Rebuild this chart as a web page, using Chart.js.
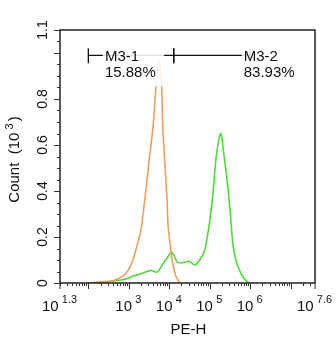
<!DOCTYPE html>
<html>
<head>
<meta charset="utf-8">
<script src="https://cdn.jsdelivr.net/npm/chart.js@4"></script>
<style>
  html, body { margin: 0; padding: 0; background: #fff; }
  canvas { display: block; }
</style>
</head>
<body>
<canvas id="histChart" width="336" height="350"></canvas>
<script>
// PE-H axis in log10 units, counts in 10^3
const orangeLog = [2.0, 2.3, 2.6, 2.85, 3.0, 3.1, 3.2, 3.3, 3.4, 3.5, 3.6, 3.65, 3.7, 3.76, 3.81, 3.84, 3.89, 3.94, 3.97, 4.02, 4.07, 4.16, 4.26];
const orangeCount = [0, 0.005, 0.01, 0.03, 0.06, 0.10, 0.16, 0.23, 0.37, 0.53, 0.68, 0.80, 0.91, 0.97, 0.86, 0.68, 0.52, 0.38, 0.25, 0.17, 0.10, 0.03, 0];

const greenLog = [2.0, 2.3, 2.6, 2.8, 3.0, 3.1, 3.3, 3.45, 3.55, 3.7, 3.85, 3.95, 4.05, 4.1, 4.2, 4.3, 4.4, 4.5, 4.6, 4.65, 4.75, 4.85, 4.92, 5.0, 5.08, 5.15, 5.22, 5.27, 5.3, 5.32, 5.42, 5.5, 5.57, 5.63, 5.7, 5.82, 5.94, 6.0];
const greenCount = [0, 0.003, 0.008, 0.013, 0.022, 0.03, 0.04, 0.05, 0.055, 0.047, 0.085, 0.11, 0.135, 0.125, 0.09, 0.088, 0.092, 0.094, 0.08, 0.078, 0.10, 0.13, 0.18, 0.27, 0.39, 0.535, 0.62, 0.65, 0.63, 0.60, 0.46, 0.32, 0.17, 0.11, 0.07, 0.026, 0.004, 0];

const xTickExps = [1.3, 3, 4, 5, 6, 7.6];
const yTickLabels = [0, 0.2, 0.4, 0.6, 0.8, 1.1];

const gates = [
    { name: 'M3-1', pct: '15.88%', from: 2.0, to: 4.11 },
    { name: 'M3-2', pct: '83.93%', from: 4.11, to: 6.0 }
];
const gateLevel = 0.99;

const FONT = '"Liberation Sans", Arial, sans-serif';

function toPoints(xs, ys) {
    return xs.map((x, i) => ({ x: x, y: ys[i] }));
}

const axesPlugin = {
    id: 'flowAxes',
    afterDatasetsDraw(chart) {
        const { ctx, chartArea: a, scales: { x, y } } = chart;
        ctx.save();

        // gate labels with light backing, drawn over the curves
        ctx.font = '15px ' + FONT;
        ctx.textBaseline = 'middle';
        const gy = y.getPixelForValue(gateLevel);
        gates.forEach((g, i) => {
            const x0 = x.getPixelForValue(g.from);
            const x1 = x.getPixelForValue(g.to);
            ctx.strokeStyle = '#111';
            ctx.lineWidth = 1.3;
            ctx.beginPath();
            ctx.moveTo(x0, gy); ctx.lineTo(x1, gy);
            ctx.moveTo(x0, gy - 7); ctx.lineTo(x0, gy + 8);
            if (i === gates.length - 1 || true) { ctx.moveTo(x1, gy - 7); ctx.lineTo(x1, gy + 8); }
            ctx.stroke();
        });
        const boxes = [
            { x: x.getPixelForValue(2.36), w: 61 },
            { x: x.getPixelForValue(5.79), w: 50 }
        ];
        gates.forEach((g, i) => {
            const bx = boxes[i].x;
            ctx.fillStyle = 'rgba(255,255,255,0.88)';
            ctx.fillRect(bx, gy - 9, boxes[i].w, 40);
            ctx.fillStyle = '#111';
            ctx.textAlign = 'left';
            ctx.fillText(g.name, bx + 2, gy + 2);
            ctx.fillText(g.pct, bx + 2, gy + 18);
        });

        // frame
        ctx.strokeStyle = '#000';
        ctx.lineWidth = 1.3;
        ctx.strokeRect(a.left, a.top, a.right - a.left, a.bottom - a.top);

        // y ticks
        ctx.lineWidth = 1;
        ctx.strokeStyle = '#333';
        for (let v = 0; v <= 1.1001; v += 0.05) {
            const py = Math.round(y.getPixelForValue(v)) + 0.5;
            const r = Math.round(v * 100);
            const major = r % 10 === 0 ? (r % 20 === 0 || r === 100 || r === 110) : false;
            ctx.beginPath();
            ctx.moveTo(a.left, py);
            ctx.lineTo(a.left - (major ? 6 : 3), py);
            ctx.stroke();
        }
        ctx.fillStyle = '#111';
        ctx.font = '14px ' + FONT;
        ctx.textAlign = 'center';
        ctx.textBaseline = 'middle';
        yTickLabels.forEach(v => {
            const py = y.getPixelForValue(v);
            ctx.save();
            ctx.translate(a.left - 17, py);
            ctx.rotate(-Math.PI / 2);
            ctx.fillText(String(v), 0, 0);
            ctx.restore();
        });

        // x ticks (log minor ticks)
        const minX = x.min, maxX = x.max;
        for (let d = 1; d <= 7; d++) {
            for (let m = 1; m <= 9; m++) {
                const lv = d + Math.log10(m);
                if (lv < minX - 1e-6 || lv > maxX + 1e-6) continue;
                const px = Math.round(x.getPixelForValue(lv)) + 0.5;
                ctx.beginPath();
                ctx.moveTo(px, a.bottom);
                ctx.lineTo(px, a.bottom + (m === 1 ? 6 : 3));
                ctx.stroke();
            }
        }
        [minX, maxX].forEach(lv => {
            const px = x.getPixelForValue(lv);
            ctx.beginPath();
            ctx.moveTo(px, a.bottom);
            ctx.lineTo(px, a.bottom + 6);
            ctx.stroke();
        });

        // x tick labels: 10 with superscript exponent
        ctx.textAlign = 'left';
        ctx.textBaseline = 'alphabetic';
        xTickExps.forEach(e => {
            const px = x.getPixelForValue(e);
            const base = '10 ';
            const sup = String(e);
            ctx.font = '15px ' + FONT;
            const wb = ctx.measureText(base).width;
            ctx.font = '11px ' + FONT;
            const ws = ctx.measureText(sup).width;
            const left = px - (wb + ws) / 2;
            ctx.font = '15px ' + FONT;
            ctx.fillText(base, left, a.bottom + 28);
            ctx.font = '11px ' + FONT;
            ctx.fillText(sup, left + wb - 1, a.bottom + 20);
        });

        // axis titles
        ctx.font = '15px ' + FONT;
        ctx.textAlign = 'center';
        ctx.textBaseline = 'middle';
        ctx.fillText('PE-H', (a.left + a.right) / 2 + 1, a.bottom + 47);

        ctx.save();
        ctx.translate(15, 160);
        ctx.rotate(-Math.PI / 2);
        ctx.textAlign = 'left';
        const t1 = 'Count  (10 ';
        const t2 = '3';
        const t3 = ')';
        ctx.font = '15px ' + FONT;
        const w1 = ctx.measureText(t1).width;
        ctx.font = '11px ' + FONT;
        const w2 = ctx.measureText(t2).width;
        ctx.font = '15px ' + FONT;
        const w3 = ctx.measureText(t3).width;
        const start = -(w1 + w2 + w3) / 2;
        ctx.fillText(t1, start, 0);
        ctx.font = '11px ' + FONT;
        ctx.fillText(t2, start + w1 - 1, -5);
        ctx.font = '15px ' + FONT;
        ctx.fillText(t3, start + w1 + w2 + 1, 0);
        ctx.restore();

        ctx.restore();
    }
};

new Chart(document.getElementById('histChart'), {
    type: 'line',
    data: {
        datasets: [
            {
                label: 'control',
                data: toPoints(orangeLog, orangeCount),
                borderColor: '#EE9F5C',
                borderWidth: 1.6,
                pointRadius: 0,
                tension: 0.25,
                fill: false
            },
            {
                label: 'PE',
                data: toPoints(greenLog, greenCount),
                borderColor: '#4FDC3A',
                borderWidth: 1.6,
                pointRadius: 0,
                tension: 0.25,
                fill: false
            }
        ]
    },
    options: {
        responsive: false,
        animation: false,
        layout: { padding: { left: 60, top: 30, right: 21, bottom: 67 } },
        plugins: { legend: { display: false }, tooltip: { enabled: false } },
        scales: {
            x: { type: 'linear', min: 1.3, max: 7.6, display: false },
            y: { type: 'linear', min: 0, max: 1.1, display: false }
        }
    },
    plugins: [axesPlugin]
});
</script>
</body>
</html>
